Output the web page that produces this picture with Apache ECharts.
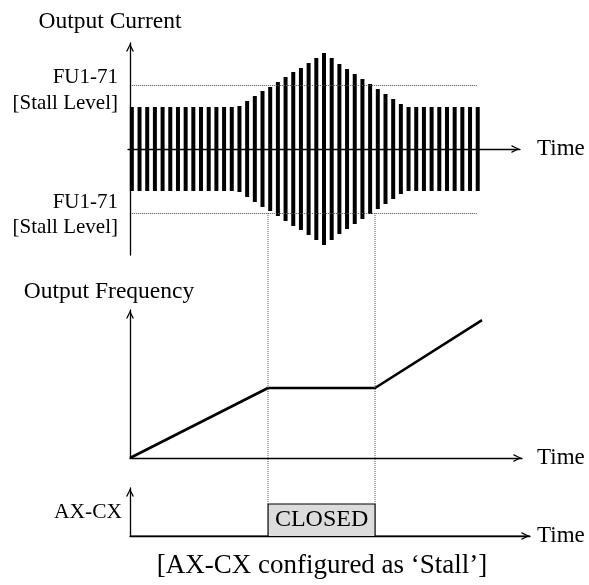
<!DOCTYPE html>
<html>
<head>
<meta charset="utf-8">
<script src="https://cdn.jsdelivr.net/npm/echarts@6/dist/echarts.min.js"></script>
<style>
html,body{margin:0;padding:0;background:#fff}
#chart{width:589px;height:585px}
</style>
</head>
<body>
<div id="chart"></div>
<script>
// Output Current: semi-amplitud de cada pulso (46 pulsos, simétricos respecto a 0)
const currentAmp = [42,42,42,42,42,42,42,42,42,42,42,42,42,42,
  43,48,53,58,62,67,72,77,81,86,91,96,
  91,85,80,75,70,65,60,55,50,45,
  42,42,42,42,42,42,42,42,42,42];
const pulseSlots = 51;            // huecos en el eje de tiempo del panel superior
const stallLevel = 64;            // FU1-71 [Stall Level]

// Output Frequency (tiempo 0..100)
const freqTime  = [0, 35.2, 62.5, 89.8];
const freqValue = [0, 47.3, 47.3, 93.2];

// AX-CX (CLOSED mientras dura el stall)
const stallTime = [35.2, 62.5];
const axcxTime  = [0, 35.2, 35.2, 62.5, 62.5, 102];
const axcxState = [0, 0, 1, 1, 0, 0];

// === Estilo ===
const FONT = '"Liberation Serif", "Times New Roman", serif';
const black = '#000', dotGray = '#555', boxGray = '#dcdcdc';
const arrow = 'path://M0,100 L50,0 L100,100 L82,100 L50,30 L18,100 Z';
const lineArrow = { show:true, onZero:true, symbol:['none', arrow], symbolSize:[8,9], symbolOffset:[0,-4.5],
  lineStyle:{ color:black, width:1.3 } };
const bare = { axisTick:{ show:false }, axisLabel:{ show:false }, splitLine:{ show:false } };
const timeName = gap => ({ name:'Time', nameLocation:'end', nameGap:gap,
  nameTextStyle:{ fontFamily:FONT, fontSize:23, color:black } });
const txt = (text, x, y, size, align) => ({ type:'text', x, y, silent:true,
  style:{ text, fill:black, fontFamily:FONT, fontSize:size, align:align||'center', verticalAlign:'middle' } });

const slots = Array.from({ length: pulseSlots }, (_, i) => String(i));

const option = {
  animation:false,
  backgroundColor:'#fff',
  grid:[
    { left:128, top:43,  width:392, height:212 },   // corriente
    { left:130, top:310, width:392, height:148 },   // frecuencia
    { left:130, top:488, width:400, height:48  },   // AX-CX
    { left:130, top:213, width:392, height:291 }    // líneas guía verticales
  ],
  xAxis:[
    { gridIndex:0, type:'category', data:slots, boundaryGap:true, axisLine:lineArrow, ...bare, ...timeName(17) },
    { gridIndex:1, type:'value', min:0, max:100, axisLine:lineArrow, ...bare, ...timeName(15) },
    { gridIndex:2, type:'value', min:0, max:102, axisLine:lineArrow, ...bare, ...timeName(7) },
    { gridIndex:3, type:'value', min:0, max:100, show:false }
  ],
  yAxis:[
    { gridIndex:0, type:'value', min:-106, max:106, offset:-2, axisLine:{ ...lineArrow, onZero:false }, ...bare },
    { gridIndex:1, type:'value', min:0, max:100, axisLine:{ ...lineArrow, onZero:false }, ...bare },
    { gridIndex:2, type:'value', min:0, max:1.5, axisLine:{ ...lineArrow, onZero:false }, ...bare },
    { gridIndex:3, type:'value', min:0, max:1, show:false }
  ],
  graphic:[
    txt('Output Current', 110, 22, 23.5),
    txt('FU1-71', 118, 77, 21, 'right'),
    txt('[Stall Level]', 118, 103, 21, 'right'),
    txt('FU1-71', 118, 202, 21, 'right'),
    txt('[Stall Level]', 118, 227, 21, 'right'),
    txt('Output Frequency', 109, 292, 23.5),
    txt('AX-CX', 122, 512, 21.5, 'right'),
    txt('[AX-CX configured as \u2018Stall\u2019]', 322, 566, 27)
  ],
  series:[
    { type:'bar', xAxisIndex:0, yAxisIndex:0, data:currentAmp, barWidth:4, barGap:'-100%',
      itemStyle:{ color:black },
      markLine:{ silent:true, symbol:['none','none'], label:{ show:false },
        lineStyle:{ type:'dotted', color:dotGray, width:1 },
        data:[ [{ coord:[0, stallLevel] }, { coord:[currentAmp.length-1, stallLevel] }],
               [{ coord:[0, -stallLevel] }, { coord:[currentAmp.length-1, -stallLevel] }] ] } },
    { type:'bar', xAxisIndex:0, yAxisIndex:0, data:currentAmp.map(v => -v), barWidth:4, barGap:'-100%',
      itemStyle:{ color:black } },
    { type:'line', xAxisIndex:1, yAxisIndex:1, data:freqTime.map((t,i)=>[t, freqValue[i]]),
      symbol:'none', lineStyle:{ color:black, width:2.6 } },
    { type:'line', xAxisIndex:2, yAxisIndex:2, data:axcxTime.map((t,i)=>[t, axcxState[i]]),
      symbol:'none', lineStyle:{ color:black, width:1.2 }, z:3,
      markArea:{ silent:true, itemStyle:{ color:boxGray },
        label:{ show:true, position:'inside', formatter:'CLOSED', fontFamily:FONT, fontSize:24, color:black },
        data:[ [{ name:'CLOSED', xAxis:stallTime[0], yAxis:0 }, { xAxis:stallTime[1], yAxis:1 }] ] } },
    ...stallTime.map(t => ({ type:'line', xAxisIndex:3, yAxisIndex:3, data:[[t,0],[t,1]], silent:true,
      symbol:'none', lineStyle:{ type:'dotted', color:dotGray, width:1 } }))
  ]
};

echarts.init(document.getElementById('chart')).setOption(option);
</script>
</body>
</html>
